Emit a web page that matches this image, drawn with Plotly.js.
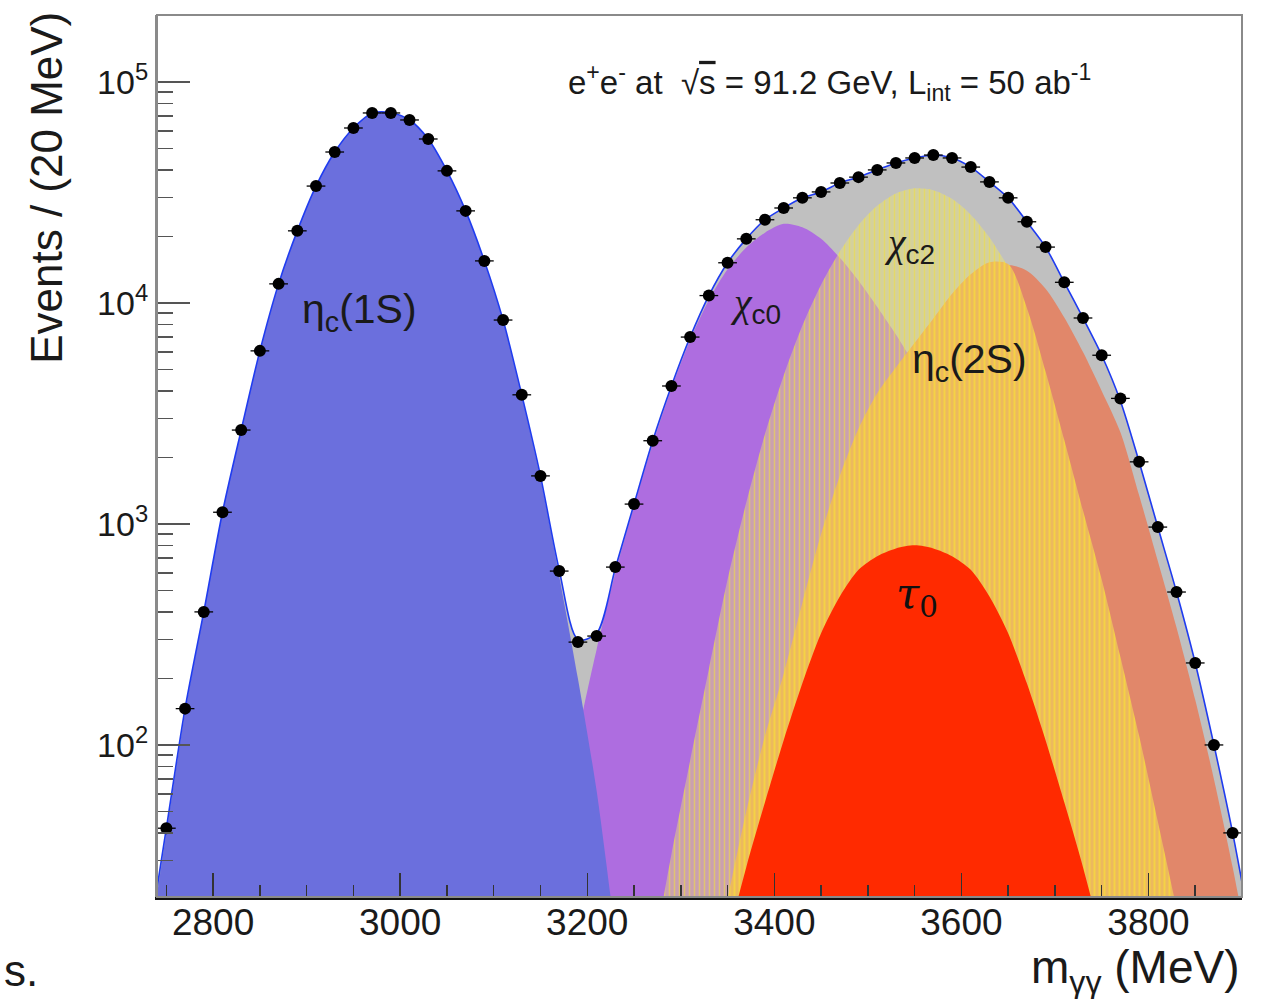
<!DOCTYPE html>
<html><head><meta charset="utf-8">
<script src="https://cdn.plot.ly/plotly-3.0.1.min.js"></script>
<style>html,body{margin:0;padding:0;background:#fff;} #chart{width:1262px;height:999px;}</style>
</head><body><div id="chart"></div>
<script>
// ---- data points (bin centres, MeV) and events per 20 MeV ----
const dataMass = [2750,2770,2790,2810,2830,2850,2870,2890,2910,2930,2950,2970,2990,3010,3030,3050,3070,3090,3110,3130,3150,3170,3190,3210,3230,3250,3270,3290,3310,3330,3350,3370,3390,3410,3430,3450,3470,3490,3510,3530,3550,3570,3590,3610,3630,3650,3670,3690,3710,3730,3750,3770,3790,3810,3830,3850,3870,3890];
const dataEvents = [42,146,400,1130,2660,6070,12200,21200,33800,48200,61900,72400,72400,67300,55200,39600,26100,15500,8370,3840,1650,612,292,311,638,1230,2380,4210,7010,10800,15200,19500,23800,26900,29900,31800,34900,37100,40000,43000,45300,46700,45300,41200,35300,29900,23300,17900,12400,8550,5800,3700,1910,968,492,235,100,40];

// ---- total fit ----
const fitMass = [2730,2750,2770,2790,2810,2830,2850,2870,2890,2910,2930,2950,2970,2990,3010,3030,3050,3070,3090,3110,3130,3150,3170,3190,3210,3230,3250,3270,3290,3310,3330,3350,3370,3390,3410,3430,3450,3470,3490,3510,3530,3550,3570,3590,3610,3630,3650,3670,3690,3710,3730,3750,3770,3790,3810,3830,3850,3870,3890,3910];
const fitTotal = [12,42,146,400,1130,2660,6070,12200,21200,33800,48200,61900,72200,72600,67300,55200,39600,26100,15500,8370,3840,1650,620,300,320,630,1230,2380,4210,7010,10800,15200,19500,23800,26900,29900,31800,34900,37100,40000,43000,45300,46700,45300,41200,35300,29900,23300,17900,12400,8550,5800,3600,1910,968,492,235,100,40,14];

// ---- components ----
const etac1sMass = [2730,2750,2770,2790,2810,2830,2850,2870,2890,2910,2930,2950,2970,2990,3010,3030,3050,3070,3090,3110,3130,3150,3170,3190,3210,3230,3250];
const etac1sYield = [11,40,140,395,1120,2640,6020,12100,21100,33700,48000,61700,72000,72300,67000,55000,39400,25900,15300,8250,3780,1600,580,200,62,14,3];

const chic0Mass = [3130,3150,3170,3190,3210,3230,3250,3270,3290,3310,3330,3350,3370,3390,3410,3430,3450,3470,3490,3510,3530,3550,3570,3590,3610,3630,3650,3670,3690,3710,3730,3750];
const chic0Yield = [4,12,38,110,270,600,1200,2300,4100,6800,10300,14200,17800,20800,22800,22000,19500,16000,12600,9600,7200,5200,3500,2200,1300,720,380,190,88,38,15,5];

const chic2Mass = [3250,3270,3290,3310,3330,3350,3370,3390,3410,3430,3450,3470,3490,3510,3530,3550,3570,3590,3610,3630,3650,3670,3690,3710,3730,3750,3770,3790,3810,3830,3850,3870];
const chic2Yield = [4,11,32,85,220,560,1250,2550,4700,7900,12100,17100,22500,27500,31300,33000,32400,29600,25100,19800,14500,9900,6280,3700,2030,1030,490,214,88,33,12,4];

const otherMass = [3430,3450,3470,3490,3510,3530,3550,3570,3590,3610,3630,3650,3670,3690,3710,3730,3750,3770,3790,3810,3830,3850,3870,3890,3910,3930];
const otherYield = [10,40,130,380,950,1900,3300,5200,7800,10500,13000,14800,14000,11600,8600,6000,4000,2600,1350,680,340,160,70,28,10,3];

const etac2sMass = [3330,3350,3370,3390,3410,3430,3450,3470,3490,3510,3530,3550,3570,3590,3610,3630,3650,3670,3690,3710,3730,3750,3770,3790,3810,3830,3850];
const etac2sYield = [7,20,50,110,210,440,900,1650,2700,3900,5100,6600,8500,11000,13500,15300,15000,9500,4900,2400,1150,560,250,110,45,18,6];

const tau0Mass = [3330,3350,3370,3390,3410,3430,3450,3470,3490,3510,3530,3550,3570,3590,3610,3630,3650,3670,3690,3710,3730,3750,3770];
const tau0Yield = [5,13,28,55,105,190,320,470,620,715,775,800,775,715,620,470,320,190,105,55,28,13,5];

// ---- axis ticks ----
const xTickVals = [2800,3000,3200,3400,3600,3800];
const xTickText = ['2800','3000','3200','3400','3600','3800'];
const yTickVals = [100,1000,10000,100000];
const yTickText = ['10<sup>2</sup>','10<sup>3</sup>','10<sup>4</sup>','10<sup>5</sup>'];
const yMinorVals = [];
[10,100,1000,10000,100000].forEach(d => { for (let k=2;k<=9;k++) yMinorVals.push(k*d); });

function area(x, y, color, extra) {
  return Object.assign({
    x: x, y: y, type: 'scatter', mode: 'lines',
    line: {width: 0, color: 'rgba(0,0,0,0)', shape: 'spline', smoothing: 0.8},
    fill: 'tozeroy', fillcolor: color, hoverinfo: 'skip', showlegend: false
  }, extra || {});
}

const traces = [
  area(fitMass, fitTotal, '#c0c0c0'),
  area(chic0Mass, chic0Yield, '#ae6de0'),
  area(chic2Mass, chic2Yield, 'rgba(240,232,100,0.42)', {
    fillpattern: {shape: '|', size: 5, solidity: 0.3, fgcolor: 'rgba(240,222,60,0.55)', bgcolor: 'rgba(240,232,110,0.42)', fillmode: 'replace'}
  }),
  area(otherMass, otherYield, '#e1876a'),
  area(etac2sMass, etac2sYield, '#efbd55', {
    fillpattern: {shape: '|', size: 5, solidity: 0.4, fgcolor: '#f5d245', bgcolor: '#ecb95e', fillmode: 'replace'}
  }),
  area(tau0Mass, tau0Yield, '#ff2a00'),
  area(etac1sMass, etac1sYield, '#6b6fdd'),
  {
    x: fitMass, y: fitTotal, type: 'scatter', mode: 'lines',
    line: {color: '#1f3cf0', width: 1.6, shape: 'spline', smoothing: 0.8},
    hoverinfo: 'skip', showlegend: false
  },
  {
    x: dataMass, y: dataEvents, type: 'scatter', mode: 'markers',
    marker: {color: '#000', size: 12, symbol: 'circle'},
    error_x: {type: 'constant', value: 10, color: '#000', thickness: 1.3, width: 0},
    hoverinfo: 'skip', showlegend: false
  }
];

const font = 'Liberation Sans, Arial, Helvetica, sans-serif';
const chi = '<span style="font-family:Liberation Serif;font-style:italic">χ</span>';
const layout = {
  width: 1262, height: 999,
  margin: {l: 157, r: 20, t: 15, b: 102},
  paper_bgcolor: '#fff', plot_bgcolor: '#fff',
  font: {family: font, color: '#1a1a1a'},
  showlegend: false,
  xaxis: {
    range: [2740, 3900], showgrid: false, zeroline: false,
    showline: true, linecolor: '#111', linewidth: 2.5,
    tickmode: 'array', tickvals: xTickVals, ticktext: xTickText,
    ticks: 'inside', ticklen: 24, tickwidth: 1.5, tickcolor: '#333',
    ticklabelstandoff: -9,
    tickfont: {size: 37, family: font, color: '#1a1a1a'},
    minor: {ticks: 'inside', ticklen: 12, tickwidth: 1.5, tickcolor: '#333', dtick: 50, tick0: 2750},
    title: {text: ''}
  },
  yaxis: {
    type: 'log', range: [1.312, 5.303], showgrid: false, zeroline: false,
    showline: true, linecolor: '#8a8a8a', linewidth: 2,
    tickmode: 'array', tickvals: yTickVals, ticktext: yTickText,
    ticks: 'inside', ticklen: 33, tickwidth: 1.5, tickcolor: '#555',
    tickfont: {size: 34, family: font, color: '#1a1a1a'},
    minor: {tickmode: 'array', tickvals: yMinorVals, ticks: 'inside', ticklen: 16, tickwidth: 1.5, tickcolor: '#555'},
    title: {text: ''}
  },
  shapes: [
    {type: 'rect', xref: 'paper', yref: 'paper', x0: 0, x1: 1, y0: 0, y1: 1,
     line: {color: '#8a8a8a', width: 2}, fillcolor: 'rgba(0,0,0,0)', layer: 'above'}
  ],
  annotations: [
    {xref: 'paper', yref: 'paper', x: -0.1014, y: 0.804, text: 'Events / (20 MeV)', textangle: -90,
     showarrow: false, xanchor: 'center', yanchor: 'middle', font: {size: 44, family: font, color: '#1a1a1a'}},
    {xref: 'paper', yref: 'paper', x: 1.0, y: -0.083, text: 'm<sub>γγ</sub> (MeV)',
     showarrow: false, xanchor: 'right', yanchor: 'middle', font: {size: 46, family: font, color: '#1a1a1a'}},
    {xref: 'paper', yref: 'paper', x: -0.1429, y: -0.083, text: 's.',
     showarrow: false, xanchor: 'left', yanchor: 'middle', font: {size: 44, family: font, color: '#1a1a1a'}},
    {xref: 'paper', yref: 'paper', x: 0.377, y: 0.924,
     text: 'e<sup>+</sup>e<sup>-</sup> at  √<span style="text-decoration:overline">s</span> = 91.2 GeV, L<sub>int</sub> = 50 ab<sup>-1</sup>',
     showarrow: false, xanchor: 'left', yanchor: 'middle', font: {size: 33, family: font, color: '#1a1a1a'}},
    {xref: 'x', yref: 'y', x: 2957, y: 3.959, text: 'η<sub>c</sub>(1S)', showarrow: false,
     font: {size: 41, family: font, color: '#1a1a1a'}},
    {xref: 'x', yref: 'y', x: 3380, y: 3.991, text: chi + '<sub>c0</sub>', showarrow: false,
     font: {size: 40, family: font, color: '#1a1a1a'}},
    {xref: 'x', yref: 'y', x: 3545, y: 4.262, text: chi + '<sub>c2</sub>', showarrow: false,
     font: {size: 40, family: font, color: '#1a1a1a'}},
    {xref: 'x', yref: 'y', x: 3609, y: 3.733, text: 'η<sub>c</sub>(2S)', showarrow: false,
     font: {size: 41, family: font, color: '#1a1a1a'}},
    {xref: 'x', yref: 'y', x: 3553, y: 2.670, text: '<i>τ</i><sub>0</sub>', showarrow: false,
     font: {size: 42, family: 'DejaVu Serif, serif', color: '#111'}}
  ]
};

Plotly.newPlot('chart', traces, layout, {displayModeBar: false, staticPlot: true});
</script>
</body></html>
